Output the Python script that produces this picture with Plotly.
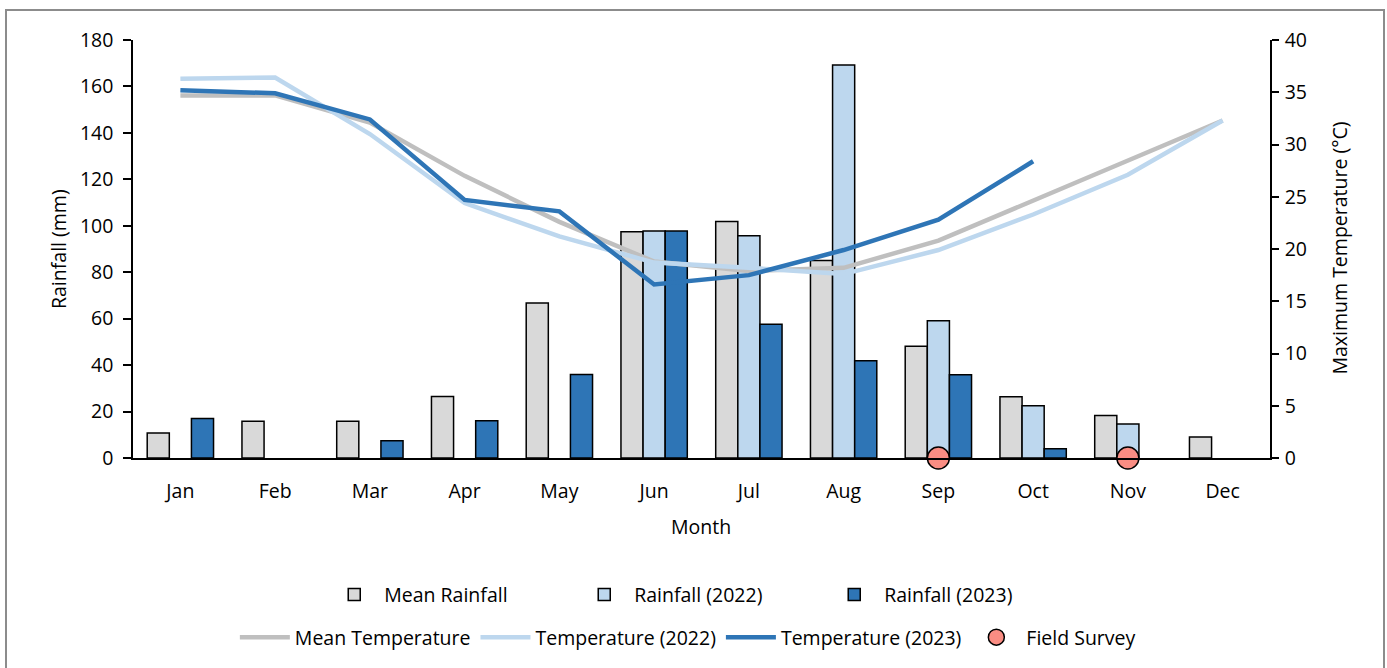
import plotly.graph_objects as go

months = ["Jan", "Feb", "Mar", "Apr", "May", "Jun", "Jul", "Aug", "Sep", "Oct", "Nov", "Dec"]

rain_mean = [10.8, 15.8, 15.8, 26.5, 66.7, 97.4, 101.8, 85.0, 48.1, 26.4, 18.3, 9.0]
rain_2022 = [None, None, None, None, None, 97.8, 95.7, 169.2, 59.1, 22.5, 14.6, None]
rain_2023 = [17.0, None, 7.4, 16.0, 36.0, 97.7, 57.6, 41.9, 35.9, 4.0, None, None]

temp_mean = [34.7, 34.7, 32.1, 27.0, 22.6, 18.8, 17.9, 18.2, 20.8, 24.6, 28.5, 32.3]
temp_2022 = [36.3, 36.4, 31.0, 24.4, 21.2, 18.7, 18.2, 17.6, 19.9, 23.3, 27.1, 32.3]
temp_2023 = [35.2, 34.9, 32.4, 24.7, 23.6, 16.6, 17.5, 19.9, 22.8, 28.4, None, None]

survey_months = ["Sep", "Nov"]
survey_values = [0, 0]

FONT = "Open Sans"
FS = 19.5

fig = go.Figure()

bar_specs = [
    ("Mean Rainfall", rain_mean, "#D9D9D9"),
    ("Rainfall (2022)", rain_2022, "#BDD7EE"),
    ("Rainfall (2023)", rain_2023, "#2E75B6"),
]
for name, vals, col in bar_specs:
    fig.add_trace(go.Bar(
        x=months, y=vals, name=name, marker=dict(color=col, line=dict(color="black", width=1.5)),
        legend="legend", yaxis="y",
    ))

line_specs = [
    ("Mean Temperature", temp_mean, "#BFBFBF"),
    ("Temperature (2022)", temp_2022, "#BDD7EE"),
    ("Temperature (2023)", temp_2023, "#2E75B6"),
]
for name, vals, col in line_specs:
    fig.add_trace(go.Scatter(
        x=months, y=vals, name=name, mode="lines", line=dict(color=col, width=4.5),
        legend="legend2", yaxis="y2",
    ))

fig.add_trace(go.Scatter(
    x=survey_months, y=survey_values, name="Field Survey", mode="markers",
    marker=dict(symbol="circle", size=22, color="#FA8D83", line=dict(color="black", width=1.5)),
    cliponaxis=False, legend="legend2", yaxis="y2",
))

axis_font = dict(family=FONT, size=FS, color="black")

fig.update_layout(
    width=1387, height=668,
    margin=dict(l=133, r=117, t=40, b=209),
    paper_bgcolor="white", plot_bgcolor="white",
    font=axis_font,
    barmode="group", bargap=0.3, bargroupgap=0,
    showlegend=True,
    xaxis=dict(
        type="category", showline=True, linecolor="black", linewidth=1.5,
        ticks="", showgrid=False, zeroline=False, tickfont=axis_font,
        ticklabelstandoff=15,
    ),
    yaxis=dict(
        range=[0, 180], dtick=20, showline=True, linecolor="black", linewidth=1.5,
        ticks="outside", ticklen=8, tickwidth=1.5, tickcolor="black",
        showgrid=False, zeroline=False, tickfont=axis_font, ticklabelstandoff=6,
    ),
    yaxis2=dict(
        range=[0, 40], dtick=5, overlaying="y", side="right", showline=True,
        linecolor="black", linewidth=1.5, ticks="outside", ticklen=7, tickwidth=1.5,
        tickcolor="black", showgrid=False, zeroline=False, tickfont=axis_font,
        ticklabelstandoff=2,
    ),
    legend=dict(
        orientation="h", x=0.498, xanchor="center", y=-0.324, yanchor="middle",
        font=axis_font, entrywidth=185, entrywidthmode="pixels", itemwidth=50,
        bgcolor="rgba(0,0,0,0)",
    ),
    legend2=dict(
        orientation="h", x=0.488, xanchor="center", y=-0.426, yanchor="middle",
        font=axis_font, itemwidth=50, bgcolor="rgba(0,0,0,0)",
    ),
    annotations=[
        dict(text="Rainfall (mm)", xref="paper", yref="paper", x=(58 - 133) / 1137, y=0.5,
             textangle=-90, showarrow=False, font=axis_font, xanchor="center", yanchor="middle"),
        dict(text="Maximum Temperature (°C)", xref="paper", yref="paper", x=(1340 - 133) / 1137,
             y=(459 - 249) / 419, textangle=-90, showarrow=False, font=axis_font,
             xanchor="center", yanchor="middle"),
        dict(text="Month", xref="paper", yref="paper", x=(701 - 133) / 1137, y=(459 - 528) / 419,
             showarrow=False, font=axis_font, xanchor="center", yanchor="middle"),
    ],
    shapes=[
        dict(type="rect", xref="paper", yref="paper",
             x0=(6 - 133) / 1137, x1=(1384 - 133) / 1137,
             y0=(459 - 675) / 419, y1=(459 - 10) / 419,
             line=dict(color="#8C8C8C", width=2), fillcolor="rgba(0,0,0,0)", layer="below"),
    ],
)

fig.write_html("out.html")
